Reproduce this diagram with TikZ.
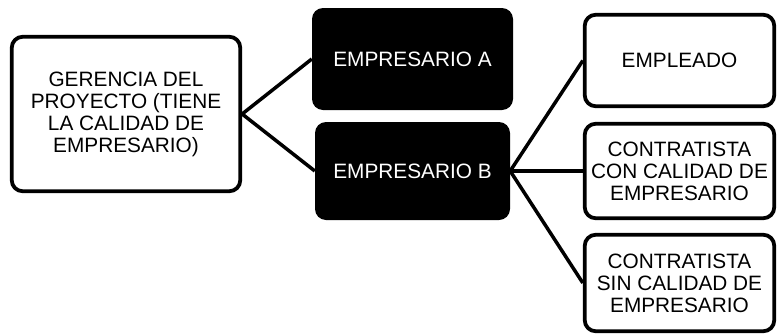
\documentclass[tikz,border=0pt]{standalone}
\usepackage{fontspec}
\setmainfont{Liberation Sans}
\begin{document}
\begin{tikzpicture}[x=1pt,y=-1pt,
  wbox/.style={draw=black,line width=3.8pt,rounded corners=11pt,fill=white,align=center,
    font=\fontsize{20.8}{22}\selectfont,inner sep=0pt},
  bbox/.style={fill=black,rounded corners=11pt,text=white,align=center,
    font=\fontsize{20.8}{22}\selectfont,inner sep=0pt},
  conn/.style={line width=3.5pt}]
\useasboundingbox (0,0) rectangle (777,335);
\node[wbox,minimum width=228.5pt,minimum height=154.5pt] (g) at (126,114)
  {GERENCIA DEL\\PROYECTO (TIENE\\LA CALIDAD DE\\EMPRESARIO)};
\node[bbox,minimum width=201pt,minimum height=102pt] (a) at (412.5,59) {EMPRESARIO A};
\node[bbox,minimum width=195pt,minimum height=98pt] (b) at (412.5,171) {EMPRESARIO B};
\node[wbox,minimum width=189.5pt,minimum height=91.5pt] (r1) at (679.5,60.5) {EMPLEADO};
\node[wbox,minimum width=189.5pt,minimum height=94.5pt] (r2) at (679.5,171)
  {CONTRATISTA\\CON CALIDAD DE\\EMPRESARIO};
\node[wbox,minimum width=189.5pt,minimum height=96.5pt] (r3) at (679.5,283)
  {CONTRATISTA\\SIN CALIDAD DE\\EMPRESARIO};
\draw[conn] (g.east) -- (a.west);
\draw[conn] (g.east) -- (b.west);
\draw[conn] (b.east) -- (r1.west);
\draw[conn] (b.east) -- (r2.west);
\draw[conn] (b.east) -- (r3.west);
\end{tikzpicture}
\end{document}
